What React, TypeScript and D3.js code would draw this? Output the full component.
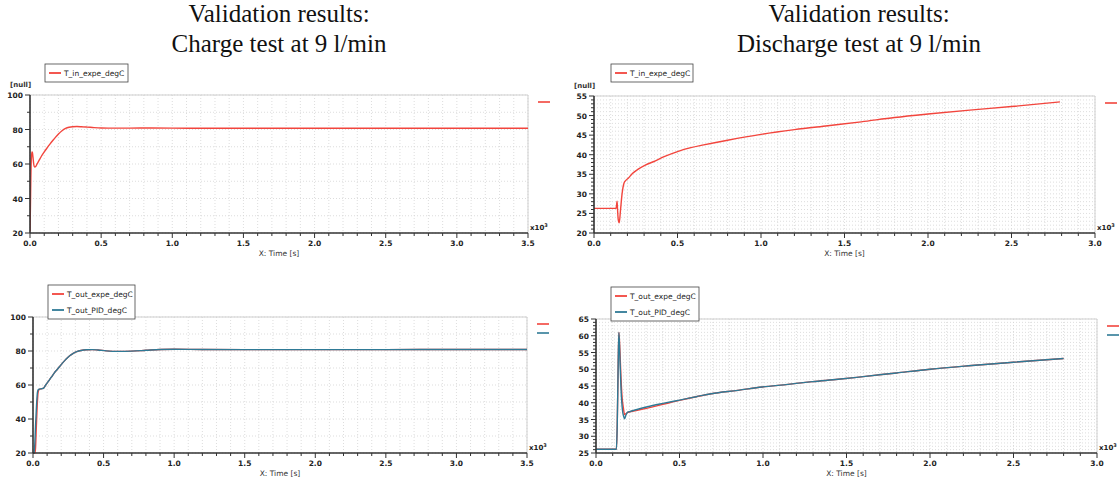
import React from "react";
import * as d3 from "d3";

// ---- Data (time in seconds, temperature in degC) ----
const chargeInT = [0, 3, 6, 10, 14, 17, 21, 26, 32, 40, 48, 60, 80, 100, 120, 140, 160, 180, 200, 225, 250, 275, 300, 330, 360, 400, 450, 500, 600, 700, 850, 1000, 1500, 2000, 2500, 3000, 3500];
const chargeInV = [21, 35, 52, 64, 67, 66.5, 64, 60, 58.3, 58.5, 59.8, 61.5, 64.5, 67, 69.3, 71.5, 73.6, 75.6, 77.4, 79.3, 80.6, 81.3, 81.6, 81.7, 81.6, 81.4, 81.1, 80.9, 80.8, 80.8, 80.9, 80.8, 80.7, 80.7, 80.7, 80.7, 80.7];

const chargeOutPidT = [0, 8, 12, 18, 25, 32, 38, 45, 60, 75, 90, 110, 130, 150, 170, 190, 210, 235, 260, 285, 310, 340, 380, 420, 460, 520, 600, 700, 800, 900, 1000, 1200, 1500, 2000, 2500, 3000, 3500];
const chargeOutPidV = [20, 20, 24, 36, 48, 56, 57.3, 57.6, 57.8, 58.2, 60, 62.3, 64.6, 67, 69, 71, 73, 75.3, 77.2, 78.6, 79.6, 80.3, 80.7, 80.8, 80.6, 80.1, 79.8, 79.9, 80.4, 80.9, 81.0, 80.9, 80.8, 80.8, 80.8, 80.9, 80.9];

const chargeOutExpeT = [0, 14, 18, 24, 30, 36, 42, 50, 60, 75, 90, 110, 130, 150, 170, 190, 210, 235, 260, 285, 310, 340, 380, 420, 460, 520, 600, 700, 800, 900, 1000, 1200, 1500, 2000, 2500, 3000, 3500];
const chargeOutExpeV = [20, 20, 23, 36, 48, 55.5, 57.2, 57.6, 57.8, 58.2, 60, 62.3, 64.6, 67, 69, 71, 73, 75.3, 77.2, 78.6, 79.6, 80.3, 80.7, 80.8, 80.6, 80.1, 79.8, 79.9, 80.4, 80.9, 81.0, 80.9, 80.8, 80.8, 80.8, 80.9, 80.9];

const dischInT = [0, 60, 132, 135, 138, 141, 145, 151, 158, 168, 180, 192, 205, 230, 265, 310, 355, 420, 500, 580, 657, 800, 1000, 1200, 1400, 1600, 1800, 2000, 2250, 2500, 2790];
const dischInV = [26.3, 26.3, 26.3, 27.0, 28.1, 26.0, 23.5, 22.6, 25.5, 30.0, 32.8, 33.5, 34.0, 35.2, 36.3, 37.4, 38.2, 39.5, 40.8, 41.8, 42.5, 43.7, 45.2, 46.4, 47.4, 48.4, 49.5, 50.4, 51.4, 52.3, 53.5];

const dischOutPidT = [0, 60, 122, 127, 133, 137, 142, 150, 158, 165, 171, 178, 190, 205, 240, 308, 400, 500, 600, 690, 850, 994, 1150, 1296, 1450, 1600, 1800, 2000, 2250, 2500, 2800];
const dischOutPidV = [26.1, 26.1, 26.1, 33, 52, 61, 55, 44, 38, 36, 35.2, 36.2, 37.2, 37.4, 37.9, 38.8, 39.8, 40.8, 41.8, 42.7, 43.7, 44.7, 45.5, 46.3, 47.0, 47.8, 48.9, 50.0, 51.1, 52.1, 53.2];

const dischOutExpeT = [0, 60, 122, 127, 133, 137, 142, 150, 157, 164, 171, 178, 190, 205, 240, 308, 400, 500, 600, 690, 850, 994, 1150, 1296, 1450, 1600, 1800, 2000, 2250, 2500, 2800];
const dischOutExpeV = [26.1, 26.1, 26.1, 33, 52, 61, 57, 47, 41.2, 38.5, 36.5, 36.7, 37.1, 37.3, 37.7, 38.4, 39.5, 40.7, 41.8, 42.7, 43.7, 44.7, 45.5, 46.3, 47.0, 47.8, 48.9, 50.0, 51.1, 52.1, 53.2];

const titlesLeft = ["Validation results:", "Charge test at 9 l/min"];
const titlesRight = ["Validation results:", "Discharge test at 9 l/min"];

const RED = "#f2453d";
const BLUE = "#2f7a96";

type Series = { name: string; t: number[]; v: number[]; color: string };
type Panel = {
  left: number; top: number; right: number; bottom: number;
  xMax: number; yMin: number; yMax: number; yMajor: number; yMinor: number;
  legend: { x: number; y: number; w: number };
  nullLabel: boolean;
  series: Series[];
};

const panels: Panel[] = [
  {
    left: 30, top: 95, right: 528, bottom: 233, xMax: 3500, yMin: 20, yMax: 100, yMajor: 20, yMinor: 10,
    legend: { x: 45, y: 64, w: 83 }, nullLabel: true,
    series: [{ name: "T_in_expe_degC", t: chargeInT, v: chargeInV, color: RED }],
  },
  {
    left: 594, top: 96, right: 1095, bottom: 233, xMax: 3000, yMin: 20, yMax: 55, yMajor: 5, yMinor: 1,
    legend: { x: 611, y: 64, w: 82 }, nullLabel: true,
    series: [{ name: "T_in_expe_degC", t: dischInT, v: dischInV, color: RED }],
  },
  {
    left: 33, top: 317, right: 527, bottom: 453, xMax: 3500, yMin: 20, yMax: 100, yMajor: 20, yMinor: 10,
    legend: { x: 48, y: 285, w: 87 }, nullLabel: false,
    series: [
      { name: "T_out_expe_degC", t: chargeOutExpeT, v: chargeOutExpeV, color: RED },
      { name: "T_out_PID_degC", t: chargeOutPidT, v: chargeOutPidV, color: BLUE },
    ],
  },
  {
    left: 596, top: 319, right: 1097, bottom: 453, xMax: 3000, yMin: 25, yMax: 65, yMajor: 5, yMinor: 1,
    legend: { x: 611, y: 287, w: 88 }, nullLabel: false,
    series: [
      { name: "T_out_expe_degC", t: dischOutExpeT, v: dischOutExpeV, color: RED },
      { name: "T_out_PID_degC", t: dischOutPidT, v: dischOutPidV, color: BLUE },
    ],
  },
];

const AXIS_FONT = "'DejaVu Sans', Verdana, sans-serif";

function PanelView({ p, idx }: { p: Panel; idx: number }) {
  const x = d3.scaleLinear().domain([0, p.xMax]).range([p.left, p.right]);
  const y = d3.scaleLinear().domain([p.yMin, p.yMax]).range([p.bottom, p.top]);
  const xMinorTicks = d3.range(0, p.xMax + 1, 100);
  const xMajorTicks = d3.range(0, p.xMax + 1, 500);
  const yMinorTicks = d3.range(p.yMin, p.yMax + 0.001, p.yMinor);
  const yMajorTicks = d3.range(p.yMin, p.yMax + 0.001, p.yMajor);
  const xGrid = d3.range(0, p.xMax + 1, 100);
  const lh = p.series.length * 16 + 2;
  return (
    <g>
      <defs>
        <clipPath id={`clip${idx}`}>
          <rect x={p.left} y={p.top - 2} width={p.right - p.left} height={p.bottom - p.top + 4} />
        </clipPath>
      </defs>
      {/* grid */}
      {yMinorTicks.map((v) => (
        <line key={`gy${v}`} x1={p.left} x2={p.right} y1={y(v)} y2={y(v)} stroke="#d4d4d4" strokeWidth={0.8} strokeDasharray="1,2" />
      ))}
      {xGrid.map((v) => (
        <line key={`gx${v}`} x1={x(v)} x2={x(v)} y1={p.top} y2={p.bottom} stroke="#d4d4d4" strokeWidth={0.8} strokeDasharray="1,2" />
      ))}
      {/* frame */}
      <line x1={p.left} x2={p.right} y1={p.top} y2={p.top} stroke="#cfcfcf" strokeWidth={1} />
      <line x1={p.right} x2={p.right} y1={p.top} y2={p.bottom} stroke="#cfcfcf" strokeWidth={1} />
      {/* series */}
      <g clipPath={`url(#clip${idx})`}>
        {p.series.map((s) => {
          const pts = s.t.map((t, i) => [x(t), y(s.v[i])] as [number, number]);
          const path = d3.line().curve(d3.curveMonotoneX)(pts) || "";
          return <path key={s.name} d={path} fill="none" stroke={s.color} strokeWidth={1.4} />;
        })}
      </g>
      {/* axes */}
      <line x1={p.left} x2={p.left} y1={p.top} y2={p.bottom} stroke="#333" strokeWidth={1.6} />
      <line x1={p.left} x2={p.right} y1={p.bottom} y2={p.bottom} stroke="#333" strokeWidth={1.6} />
      {yMinorTicks.map((v) => (
        <line key={`ty${v}`} x1={p.left - (yMajorTicks.includes(v) ? 5 : 3)} x2={p.left} y1={y(v)} y2={y(v)} stroke="#333" strokeWidth={1} />
      ))}
      {xMinorTicks.map((v) => (
        <line key={`tx${v}`} x1={x(v)} x2={x(v)} y1={p.bottom} y2={p.bottom + (v % 500 === 0 ? 5 : 3)} stroke="#333" strokeWidth={1} />
      ))}
      {yMajorTicks.map((v) => (
        <text key={`ly${v}`} x={p.left - 7} y={y(v) + 3} textAnchor="end" fontSize={7.5} fontWeight="bold" fontFamily={AXIS_FONT} fill="#222">{v}</text>
      ))}
      {xMajorTicks.map((v) => (
        <text key={`lx${v}`} x={x(v)} y={p.bottom + 13} textAnchor="middle" fontSize={7.5} fontWeight="bold" fontFamily={AXIS_FONT} fill="#222">{(v / 1000).toFixed(1)}</text>
      ))}
      <text x={p.right + 2} y={p.bottom - 3} fontSize={7} fontWeight="bold" fontFamily={AXIS_FONT} fill="#222">x10<tspan dy={-3} fontSize={5}>3</tspan></text>
      <text x={(p.left + p.right) / 2} y={p.bottom + 23} textAnchor="middle" fontSize={7.5} fontFamily={AXIS_FONT} fill="#333">X: Time [s]</text>
      {p.nullLabel && (
        <text x={p.left - 20} y={p.top - 8} fontSize={7} fontWeight="bold" fontFamily={AXIS_FONT} fill="#333">[null]</text>
      )}
      {/* legend */}
      <rect x={p.legend.x} y={p.legend.y} width={p.legend.w} height={lh} fill="white" stroke="#444" strokeWidth={0.8} />
      {p.series.map((s, i) => (
        <g key={`lg${s.name}`}>
          <line x1={p.legend.x + 4} x2={p.legend.x + 16} y1={p.legend.y + 9 + i * 16} y2={p.legend.y + 9 + i * 16} stroke={s.color} strokeWidth={1.8} />
          <text x={p.legend.x + 19} y={p.legend.y + 12 + i * 16} fontSize={7.5} fontFamily={AXIS_FONT} fill="#222">{s.name}</text>
        </g>
      ))}
      {/* right-side markers */}
      {p.series.map((s, i) => (
        <line key={`rm${s.name}`} x1={p.right + 10} x2={p.right + 22} y1={p.top + 7 + i * 9} y2={p.top + 7 + i * 9} stroke={s.color} strokeWidth={1.6} />
      ))}
    </g>
  );
}

export default function App() {
  const titleFont = "'Liberation Serif', 'Times New Roman', serif";
  return (
    <svg width={1119} height={486} style={{ position: "absolute", left: 0, top: 0, background: "white" }}>
      <rect x={0} y={0} width={1119} height={486} fill="white" />
      {titlesLeft.map((t, i) => (
        <text key={`tl${i}`} x={279} y={22 + i * 30} textAnchor="middle" fontSize={25} fontFamily={titleFont} fill="#111">{t}</text>
      ))}
      {titlesRight.map((t, i) => (
        <text key={`tr${i}`} x={859} y={22 + i * 30} textAnchor="middle" fontSize={25} fontFamily={titleFont} fill="#111">{t}</text>
      ))}
      {panels.map((p, i) => (
        <PanelView key={i} p={p} idx={i} />
      ))}
    </svg>
  );
}
